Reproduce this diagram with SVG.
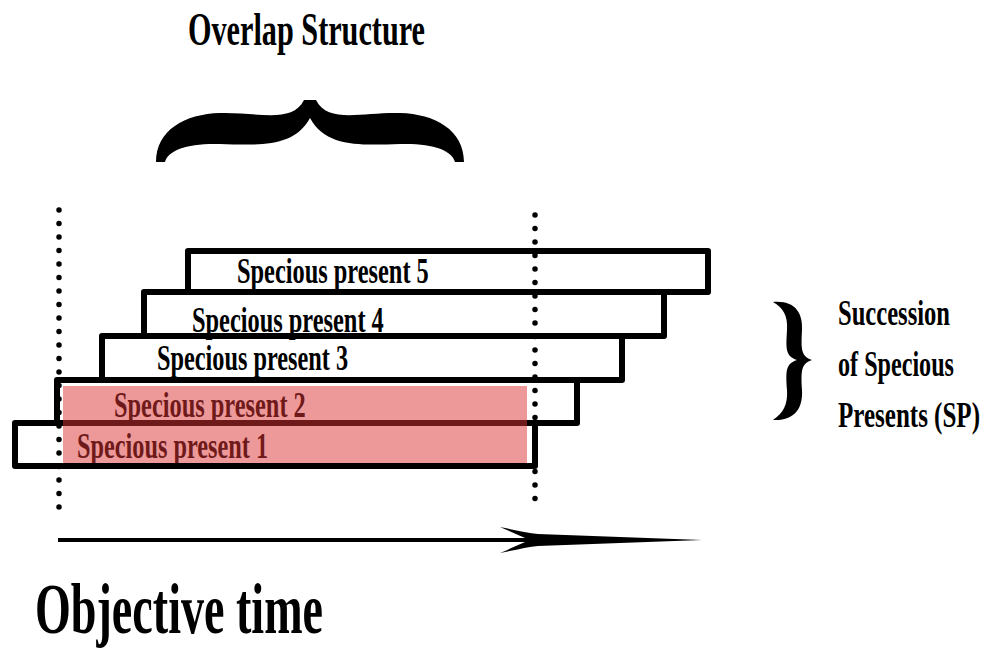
<svg xmlns="http://www.w3.org/2000/svg" width="987" height="649" viewBox="0 0 987 649">
  <style>
    .t { font-family: "Liberation Serif", "Times New Roman", serif; font-weight: bold; fill: #000; }
    .bar { fill: none; stroke: #000; stroke-width: 6; stroke-linejoin: round; }
    .dots { stroke: #000; stroke-width: 5.5; stroke-linecap: round; stroke-dasharray: 0 13.5; fill: none; }
    .brace { fill: #000; }
  </style>
  <rect width="987" height="649" fill="#fff"/>

  <g id="title">
    <text class="t" transform="translate(188,45) scale(0.65,1)" font-size="46" textLength="364.6" lengthAdjust="spacingAndGlyphs">Overlap Structure</text>
  </g>
  <g id="overlap-brace">
    <path class="brace" d="M156,162 C156,130 185,114 220,113 C258,112 292,124 304,100 L316,100 C328,124 362,112 400,113 C435,114 464,130 464,162 L455,162 C452,150 432,143 400,144 C362,145 326,148 310,118 C294,148 258,145 220,144 C188,143 168,150 165,162 Z"/>
  </g>

  <g id="guides">
    <line class="dots" x1="59" y1="210" x2="59" y2="510"/>
    <line class="dots" x1="535" y1="215" x2="535" y2="510"/>
  </g>

  <g id="sp5">
    <rect class="bar" x="188" y="251" width="520" height="41"/>
    <text class="t" transform="translate(237,283) scale(0.7,1)" font-size="35" textLength="274" lengthAdjust="spacingAndGlyphs">Specious present 5</text>
  </g>
  <g id="sp4">
    <rect class="bar" x="144" y="292" width="520" height="44"/>
    <text class="t" transform="translate(192,332) scale(0.7,1)" font-size="35" textLength="274" lengthAdjust="spacingAndGlyphs">Specious present 4</text>
  </g>
  <g id="sp3">
    <rect class="bar" x="102" y="336" width="520" height="44"/>
    <text class="t" transform="translate(157,370) scale(0.7,1)" font-size="35" textLength="273" lengthAdjust="spacingAndGlyphs">Specious present 3</text>
  </g>
  <g id="sp2">
    <rect class="bar" x="57" y="380" width="520" height="43"/>
    <text class="t" transform="translate(114,417) scale(0.7,1)" font-size="35" textLength="274" lengthAdjust="spacingAndGlyphs">Specious present 2</text>
  </g>
  <g id="sp1">
    <rect class="bar" x="15" y="423" width="520" height="43"/>
    <text class="t" transform="translate(77,458) scale(0.7,1)" font-size="35" textLength="273" lengthAdjust="spacingAndGlyphs">Specious present 1</text>
  </g>
  <g id="highlight">
    <rect x="63" y="386" width="464" height="77" fill="#dc3434" fill-opacity="0.5"/>
  </g>

  <g id="succession">
    <path class="brace" d="M773,302 C795,300 803,313 802,330 C801,350 801,356 812,360 C801,364 801,370 802,390 C803,408 795,421 773,420 C783,413 788,405 787,390 C786,372 785,364 797,360 C785,356 786,348 787,330 C788,315 783,308 773,302 Z"/>
    <text class="t" transform="translate(838,325) scale(0.68,1)" font-size="36" textLength="164.7" lengthAdjust="spacingAndGlyphs">Succession</text>
    <text class="t" transform="translate(838,376) scale(0.68,1)" font-size="36" textLength="170.6" lengthAdjust="spacingAndGlyphs">of Specious</text>
    <text class="t" transform="translate(838,427) scale(0.68,1)" font-size="36" textLength="208.8" lengthAdjust="spacingAndGlyphs">Presents (SP)</text>
  </g>

  <g id="connectors">
    <line x1="58" y1="540" x2="532" y2="540" stroke="#000" stroke-width="4"/>
    <path fill="#000" d="M500,527 C515,530 528,533 538,534 L702,540 L538,546 C528,547 515,550 500,553 C512,548 522,543 530,540 C522,537 512,532 500,527 Z"/>
  </g>

  <g id="axis-label">
    <text class="t" transform="translate(35,633) scale(0.64,1)" font-size="72" textLength="450" lengthAdjust="spacingAndGlyphs">Objective time</text>
  </g>
</svg>
